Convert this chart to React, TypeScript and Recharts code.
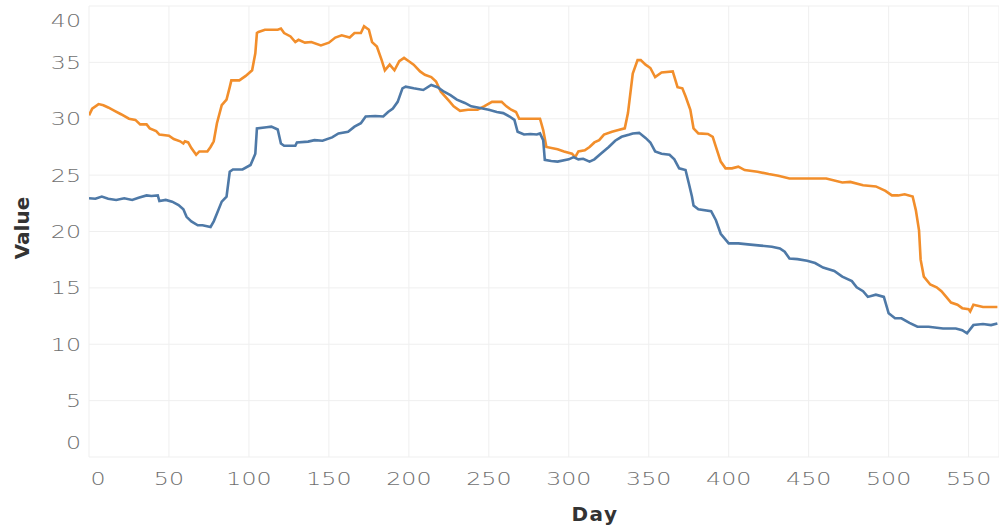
import { LineChart, Line, XAxis, YAxis, CartesianGrid } from "recharts";

// eixos
const xTicks = [0, 50, 100, 150, 200, 250, 300, 350, 400, 450, 500, 550];
const yTicks = [0, 5, 10, 15, 20, 25, 30, 35, 40];

// série laranja (dia, valor)
const orangeDays = [
  0, 2, 6, 9, 12, 16, 20, 25, 29, 32, 36, 38, 42, 44, 50, 53, 57, 59, 60, 62,
  64, 67, 69, 74, 76, 78, 80, 83, 86, 88, 89, 94, 98, 102, 104, 105, 106, 110, 114, 118,
  120, 122, 126, 129, 131, 135, 139, 145, 150, 154, 158, 163, 166, 170, 172, 175, 177, 180, 183, 185,
  188, 191, 194, 197, 200, 203, 207, 210, 214, 217, 220, 225, 228, 232, 237, 243, 247, 252, 258, 261,
  264, 267, 269, 275, 282, 284, 286, 293, 297, 302, 304, 306, 310, 313, 316, 319, 322, 327, 331, 335,
  337, 340, 343, 345, 348, 351, 354, 358, 365, 368, 371, 373, 376, 378, 381, 387, 390, 392, 395, 398,
  402, 406, 410, 418, 425, 431, 438, 445, 451, 461, 471, 476, 484, 492, 498, 502, 506, 510, 515, 517,
  519, 520, 522, 526, 530, 533, 536, 539, 543, 546, 550, 551, 553, 559, 563, 568,
];
const orangeValues = [
  30.3, 30.9, 31.3, 31.2, 31.0, 30.7, 30.4, 30.0, 29.9, 29.5, 29.5, 29.15, 28.9, 28.6, 28.5, 28.2, 28.0, 27.8, 28.0, 27.9,
  27.4, 26.8, 27.1, 27.1, 27.5, 28.0, 29.6, 31.2, 31.7, 32.8, 33.4, 33.4, 33.8, 34.3, 35.8, 37.6, 37.7, 37.9, 37.9, 37.9,
  38.0, 37.6, 37.3, 36.8, 37.0, 36.75, 36.8, 36.5, 36.75, 37.2, 37.4, 37.2, 37.6, 37.6, 38.2, 37.9, 36.8, 36.4, 35.2, 34.3,
  34.8, 34.3, 35.1, 35.4, 35.1, 34.8, 34.2, 33.9, 33.7, 33.3, 32.4, 31.6, 31.1, 30.7, 30.8, 30.8, 31.1, 31.5, 31.5, 31.1,
  30.8, 30.6, 30.0, 30.0, 30.0, 29.0, 27.5, 27.3, 27.1, 26.9, 26.6, 27.1, 27.2, 27.5, 27.9, 28.1, 28.6, 28.85, 29.0, 29.15,
  30.5, 34.0, 35.2, 35.2, 34.8, 34.5, 33.7, 34.1, 34.2, 32.8, 32.7, 32.0, 30.8, 29.15, 28.7, 28.65, 28.4, 27.5, 26.2, 25.6,
  25.6, 25.75, 25.45, 25.3, 25.1, 24.95, 24.7, 24.7, 24.7, 24.7, 24.35, 24.4, 24.1, 24.0, 23.6, 23.2, 23.2, 23.3, 23.1, 21.9,
  20.1, 17.5, 16.0, 15.3, 15.05, 14.7, 14.2, 13.7, 13.5, 13.2, 13.1, 12.9, 13.5, 13.3, 13.3, 13.3,
];

// série azul (dia, valor)
const blueDays = [
  0, 4, 8, 12, 17, 22, 27, 31, 36, 39, 43, 44, 48, 52, 56, 59, 61, 64, 68, 71,
  76, 78, 80, 83, 86, 88, 90, 96, 101, 104, 105, 111, 114, 118, 120, 122, 129, 130, 137, 141,
  146, 152, 156, 162, 166, 170, 173, 179, 184, 187, 190, 193, 196, 198, 203, 209, 214, 218, 222, 226,
  230, 235, 239, 243, 250, 255, 259, 263, 266, 268, 272, 276, 280, 282, 284, 285, 289, 293, 300, 303,
  306, 309, 313, 316, 320, 325, 329, 333, 338, 340, 344, 348, 351, 354, 358, 363, 366, 369, 373, 375,
  377, 378, 381, 389, 392, 395, 400, 406, 412, 420, 427, 432, 435, 438, 443, 449, 454, 459, 466, 471,
  477, 480, 484, 487, 492, 497, 500, 504, 508, 513, 518, 525, 534, 542, 546, 549, 553, 559, 564, 568,
];
const blueValues = [
  22.95, 22.9, 23.1, 22.9, 22.8, 22.95, 22.8, 23.0, 23.2, 23.15, 23.2, 22.7, 22.8, 22.65, 22.35, 21.97, 21.3, 20.9, 20.55, 20.55,
  20.4, 20.9, 21.6, 22.65, 23.1, 25.3, 25.5, 25.5, 25.9, 26.9, 29.15, 29.25, 29.3, 29.05, 27.8, 27.6, 27.6, 27.9, 27.97, 28.1,
  28.05, 28.35, 28.7, 28.85, 29.3, 29.6, 30.2, 30.25, 30.2, 30.6, 30.9, 31.5, 32.7, 32.85, 32.7, 32.55, 33.0, 32.8, 32.4, 32.1,
  31.7, 31.4, 31.1, 31.0, 30.8, 30.6, 30.5, 30.2, 29.9, 28.85, 28.6, 28.65, 28.6, 28.7, 28.1, 26.35, 26.25, 26.2, 26.4, 26.6,
  26.4, 26.45, 26.2, 26.4, 26.9, 27.5, 28.05, 28.4, 28.6, 28.7, 28.75, 28.3, 27.9, 27.1, 26.9, 26.8, 26.4, 25.6, 25.45, 24.3,
  23.1, 22.3, 21.97, 21.8, 21.0, 19.8, 18.95, 18.95, 18.86, 18.75, 18.65, 18.5, 18.2, 17.6, 17.55, 17.4, 17.2, 16.8, 16.5, 16.0,
  15.6, 15.05, 14.7, 14.2, 14.4, 14.2, 12.75, 12.3, 12.3, 11.9, 11.55, 11.55, 11.4, 11.4, 11.25, 10.97, 11.7, 11.8, 11.7, 11.85,
];

const orangeData = orangeDays.map((d, i) => ({ day: d, value: orangeValues[i] }));
const blueData = blueDays.map((d, i) => ({ day: d, value: blueValues[i] }));

const COLORS = {
  orange: "#F28E2B",
  blue: "#4E79A7",
  grid: "#EFEFEF",
  tick: "#707070",
  title: "#333333",
};

const FONT = "'DejaVu Sans', sans-serif";

// rótulos das pontas ficam puxados pra dentro, como no original
const YTick = ({ x, y, payload }: any) => {
  let dy = 0;
  if (payload.value === 0) dy = -14;
  if (payload.value === 40) dy = 12;
  return (
    <g transform={`translate(${x},${y + dy}) scale(1.32,1)`}>
      <text x={0} y={0} dy="0.36em" textAnchor="end" fill={COLORS.tick} fontSize={18} fontWeight={300} fontFamily={FONT}>
        {payload.value}
      </text>
    </g>
  );
};

const XTick = ({ x, y, payload }: any) => {
  const dx = payload.value === 0 ? 9 : 0;
  return (
    <g transform={`translate(${x + dx},${y + 20}) scale(1.32,1)`}>
      <text x={0} y={0} textAnchor="middle" fill={COLORS.tick} fontSize={18} fontWeight={300} fontFamily={FONT}>
        {payload.value}
      </text>
    </g>
  );
};

const XTitle = () => (
  <text x={595} y={521} textAnchor="middle" fill={COLORS.title} fontSize={20} fontWeight={700}
    fontFamily={FONT} letterSpacing={1.5}>
    Day
  </text>
);

const YTitle = () => (
  <text x={22} y={228} transform="rotate(-90 22 228)" textAnchor="middle" dy="0.36em"
    fill={COLORS.title} fontSize={20} fontWeight={700} fontFamily={FONT}>
    Value
  </text>
);

export default function App() {
  return (
    <div style={{ position: "absolute", left: 0, top: 0, width: 999, height: 525, background: "#fff" }}>
      <LineChart width={999} height={525} margin={{ top: 6, right: 0, bottom: 0, left: 0 }}>
        <CartesianGrid stroke={COLORS.grid} />
        <XAxis
          dataKey="day"
          type="number"
          domain={[0, 569]}
          ticks={xTicks}
          allowDataOverflow
          height={68}
          axisLine={false}
          tickLine={false}
          tick={<XTick />}
          label={<XTitle />}
        />
        <YAxis
          type="number"
          domain={[0, 40]}
          ticks={yTicks}
          width={89}
          axisLine={false}
          tickLine={false}
          tick={<YTick />}
          label={<YTitle />}
        />
        <Line data={orangeData} dataKey="value" type="linear" stroke={COLORS.orange} strokeWidth={2.6}
          dot={false} isAnimationActive={false} />
        <Line data={blueData} dataKey="value" type="linear" stroke={COLORS.blue} strokeWidth={2.6}
          dot={false} isAnimationActive={false} />
      </LineChart>
    </div>
  );
}
